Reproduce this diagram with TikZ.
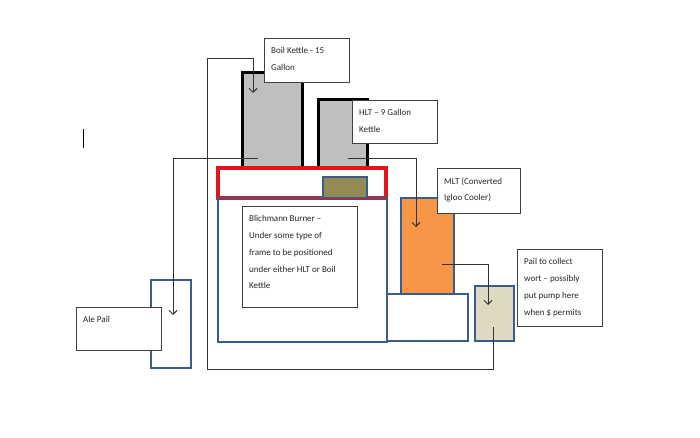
\documentclass[tikz,border=0pt]{standalone}
\usepackage{fontspec}
\setmainfont{Carlito}
\usepackage{tikz}
\definecolor{kettlegray}{HTML}{BFBFBF}
\definecolor{brewblue}{HTML}{385D8A}
\definecolor{framered}{HTML}{E3151B}
\definecolor{mltorange}{HTML}{F79646}
\definecolor{pailtan}{HTML}{DDD9C3}
\definecolor{burnerolive}{HTML}{948A54}
\definecolor{notegray}{HTML}{404040}
\definecolor{pipegray}{HTML}{333333}
\definecolor{textgray}{HTML}{262626}
\usetikzlibrary{arrows.meta}
\tikzset{
	shell/.style={anchor=north west, inner sep=0pt, outer sep=0pt},
	kettle/.style={shell, fill=kettlegray},
	kwall/.style={line width=3pt, draw=black},
	vessel/.style={shell, draw=brewblue, line width=2.8pt},
	note/.style={shell, draw=notegray, fill=white, line width=0.9pt},
	notetxt/.style={anchor=north west, inner sep=0pt, xshift=7pt, yshift=-9.5pt,
		align=left, text=textgray, font=\fontsize{9}{16.7}\selectfont},
	pipe/.style={draw=pipegray, line width=0.9pt},
	parr/.style={pipe, -{Straight Barb[length=4pt, width=8pt]}}
}

\begin{document}
\begin{tikzpicture}[x=1pt, y=-1pt]
	\useasboundingbox (0,0) rectangle (700,438);
	\node[kettle, minimum width=60pt, minimum height=95pt] (boil) at (242,73) {};
	\node[kettle, minimum width=49pt, minimum height=68pt] (hlt) at (318,100) {};
	\draw[kwall] (boil.south west) |- (boil.north east) -- (boil.south east);
	\draw[kwall] (hlt.south west) |- (hlt.north east) -- (hlt.south east);
	\node[shell, draw=framered, line width=3.2pt, minimum width=168pt, minimum height=30pt] (frame) at (218,168) {};
	\node[vessel, fill=burnerolive, minimum width=44pt, minimum height=21pt] (burner) at (323,177) {};
	\node[vessel, minimum width=169pt, minimum height=144pt] (stand) at (218,198) {};
	\node[vessel, fill=mltorange, minimum width=53pt, minimum height=96pt] (mlt) at (401,198) {};
	\node[vessel, fill=white, minimum width=81pt, minimum height=47pt] (mltstand) at (387,294) {};
	\node[vessel, fill=pailtan, minimum width=39pt, minimum height=55pt] (pail) at (475,286) {};
	\node[vessel, minimum width=40pt, minimum height=88pt] (alepail) at (151,280) {};

	\node[note, minimum width=85pt, minimum height=44pt] (boilnote) at (264,38) {};
	\node[notetxt] (boiltxt) at (boilnote.north west) {Boil Kettle - 15\\Gallon};
	\node[note, minimum width=85pt, minimum height=43pt] (hltnote) at (352,100) {};
	\node[notetxt] (hlttxt) at (hltnote.north west) {HLT – 9 Gallon\\Kettle};
	\node[note, minimum width=83pt, minimum height=45pt] (mltnote) at (437,168) {};
	\node[notetxt] (mlttxt) at (mltnote.north west) {MLT (Converted\\Igloo Cooler)};
	\node[note, minimum width=85pt, minimum height=77pt] (pailnote) at (517,249) {};
	\node[notetxt] (pailtxt) at (pailnote.north west) {Pail to collect\\wort – possibly\\put pump here\\when \$ permits};
	\node[note, minimum width=115pt, minimum height=101pt] (standnote) at (242,206) {};
	\node[notetxt] (standtxt) at (standnote.north west) {Blichmann Burner –\\Under some type of\\frame to be positioned\\under either HLT or Boil\\Kettle};
	\node[note, minimum width=85pt, minimum height=43pt] (alenote) at (76,307) {};
	\node[notetxt] (aletxt) at (alenote.north west) {Ale Pail};

	\coordinate (boilin) at (253,93);
	\coordinate (boilout) at (258,158);
	\coordinate (hltout) at (348,158);
	\coordinate (mltin) at (416,227);
	\coordinate (mltout) at (442,264);
	\coordinate (pailin) at (488,305);
	\coordinate (pailout) at (493,327);
	\coordinate (alein) at (173,315);
	\draw[parr] (pailout) |- (207,369) -- (207,58) -| (boilin);
	\draw[parr] (boilout) -| (alein);
	\draw[parr] (hltout) -| (mltin);
	\draw[parr] (mltout) -| (pailin);

	\coordinate (marktop) at (83,129);
	\coordinate (markbot) at (83,148);
	\draw[line width=1pt] (marktop) -- (markbot);
\end{tikzpicture}
\end{document}
